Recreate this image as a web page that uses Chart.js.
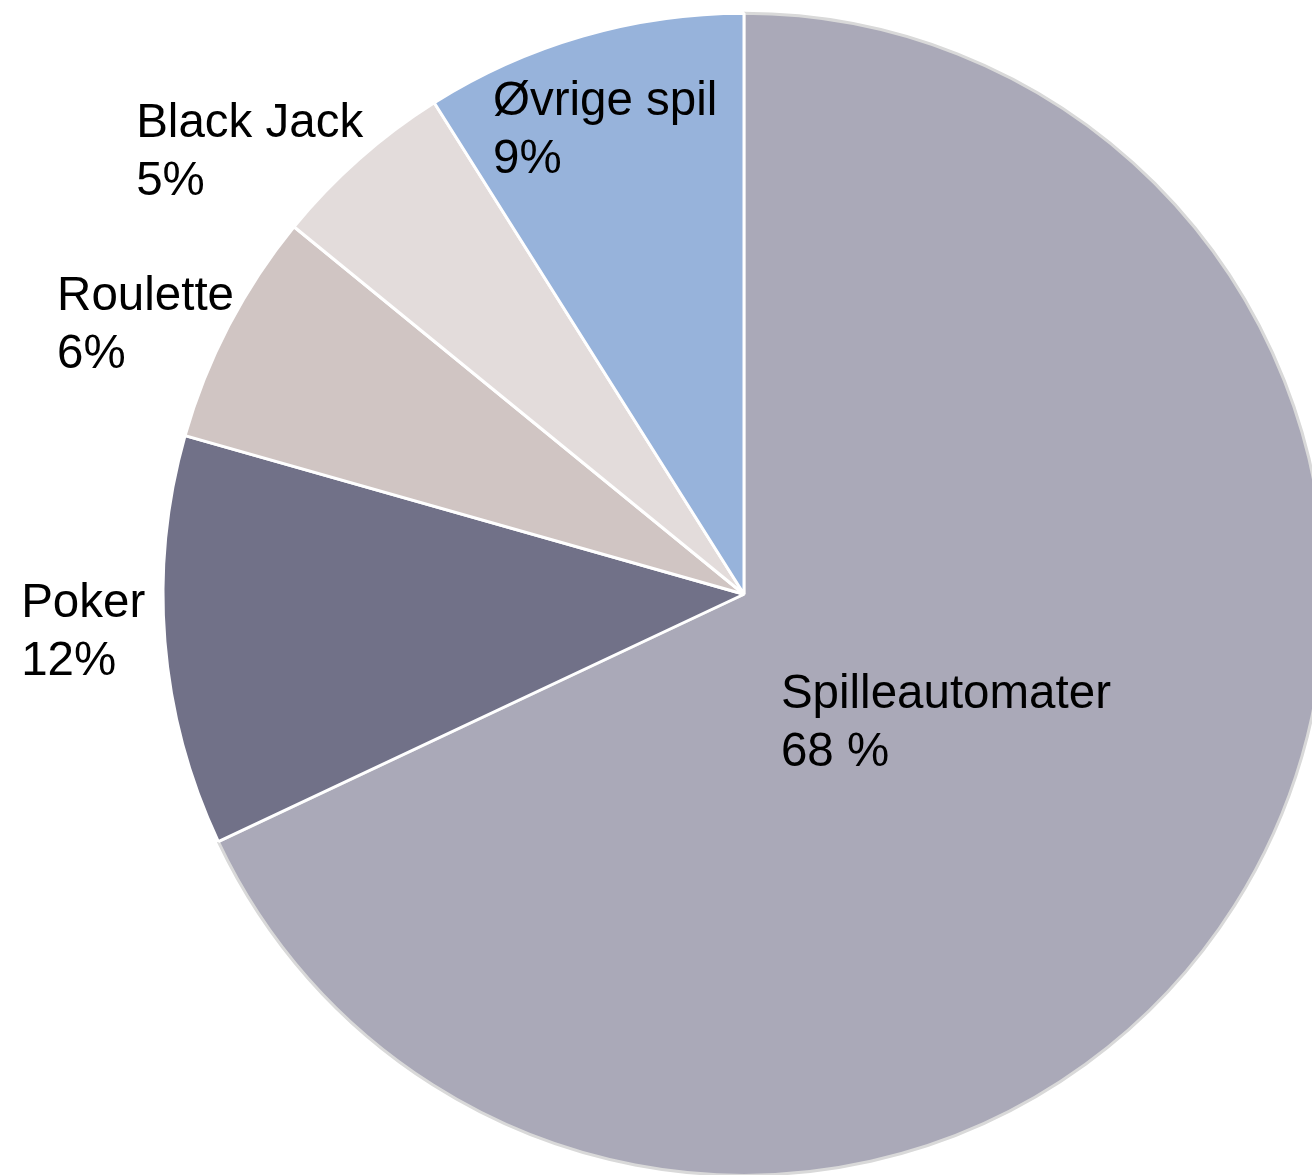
<!DOCTYPE html>
<html>
<head>
<meta charset="utf-8">
<script src="https://cdn.jsdelivr.net/npm/chart.js@4/dist/chart.umd.min.js"></script>
<style>
  html, body { margin: 0; padding: 0; background: #ffffff; overflow: hidden; width: 1312px; height: 1175px; }
  #wrap { position: absolute; left: 0; top: 0; width: 1342px; height: 1177px; }
</style>
</head>
<body>
<div id="wrap"><canvas id="c" width="1342" height="1177"></canvas></div>
<script>
const categories = ['Spilleautomater', 'Poker', 'Roulette', 'Black Jack', 'Øvrige spil'];
const shares = [68, 11.4, 6.5, 5.15, 8.95];
const shareLabels = ['68 %', '12%', '6%', '5%', '9%'];
const sliceColors = ['#aaa9b8', '#717188', '#d0c5c3', '#e3dcdb', '#97b3db'];
const sliceBorders = ['#d9d9d9', '#ffffff', '#ffffff', '#ffffff', '#ffffff'];

// label placement: radial factor of the outer radius and angular shift (degrees) from slice mid-angle
const labelPlacement = [
  { f: 0.410, shift: -0.36 },
  { f: 1.139, shift: 1.6 },
  { f: 1.131, shift: -3.14 },
  { f: 1.144, shift: -6.56 },
  { f: 0.838, shift: -0.46 }
];

const labelPlugin = {
  id: 'sliceLabels',
  afterDatasetsDraw(chart) {
    const ctx = chart.ctx;
    const meta = chart.getDatasetMeta(0);
    const fontSize = 47.5;
    const lineH = 58;
    ctx.save();
    ctx.font = fontSize + 'px "Liberation Sans", Arial, sans-serif';
    ctx.fillStyle = '#000000';
    ctx.textAlign = 'left';
    ctx.textBaseline = 'alphabetic';
    meta.data.forEach((arc, i) => {
      const p = arc.getProps(['x', 'y', 'startAngle', 'endAngle', 'outerRadius'], true);
      const pl = labelPlacement[i];
      const mid = (p.startAngle + p.endAngle) / 2 + pl.shift * Math.PI / 180;
      const cx = p.x + pl.f * p.outerRadius * Math.cos(mid);
      const cy = p.y + pl.f * p.outerRadius * Math.sin(mid);
      const lines = [categories[i], shareLabels[i]];
      const w = Math.max(...lines.map(t => ctx.measureText(t).width));
      const left = cx - w / 2;
      const top = cy - lineH;
      const asc = 0.905 * fontSize, desc = 0.212 * fontSize;
      const pad = (lineH - asc - desc) / 2;
      lines.forEach((t, k) => {
        ctx.fillText(t, left, top + k * lineH + pad + asc);
      });
    });
    ctx.restore();
  }
};

new Chart(document.getElementById('c'), {
  type: 'pie',
  data: {
    labels: categories,
    datasets: [{
      data: shares,
      backgroundColor: sliceColors,
      borderColor: sliceBorders,
      borderWidth: 3,
      hoverBorderWidth: 3,
      hoverOffset: 0,
      offset: 0
    }]
  },
  options: {
    responsive: false,
    animation: false,
    devicePixelRatio: 1,
    rotation: 0,
    layout: { padding: { left: 161.5, top: 11.5, right: 15.5, bottom: 0 } },
    plugins: {
      legend: { display: false },
      tooltip: { enabled: false },
      title: { display: false }
    }
  },
  plugins: [labelPlugin]
});
</script>
</body>
</html>
